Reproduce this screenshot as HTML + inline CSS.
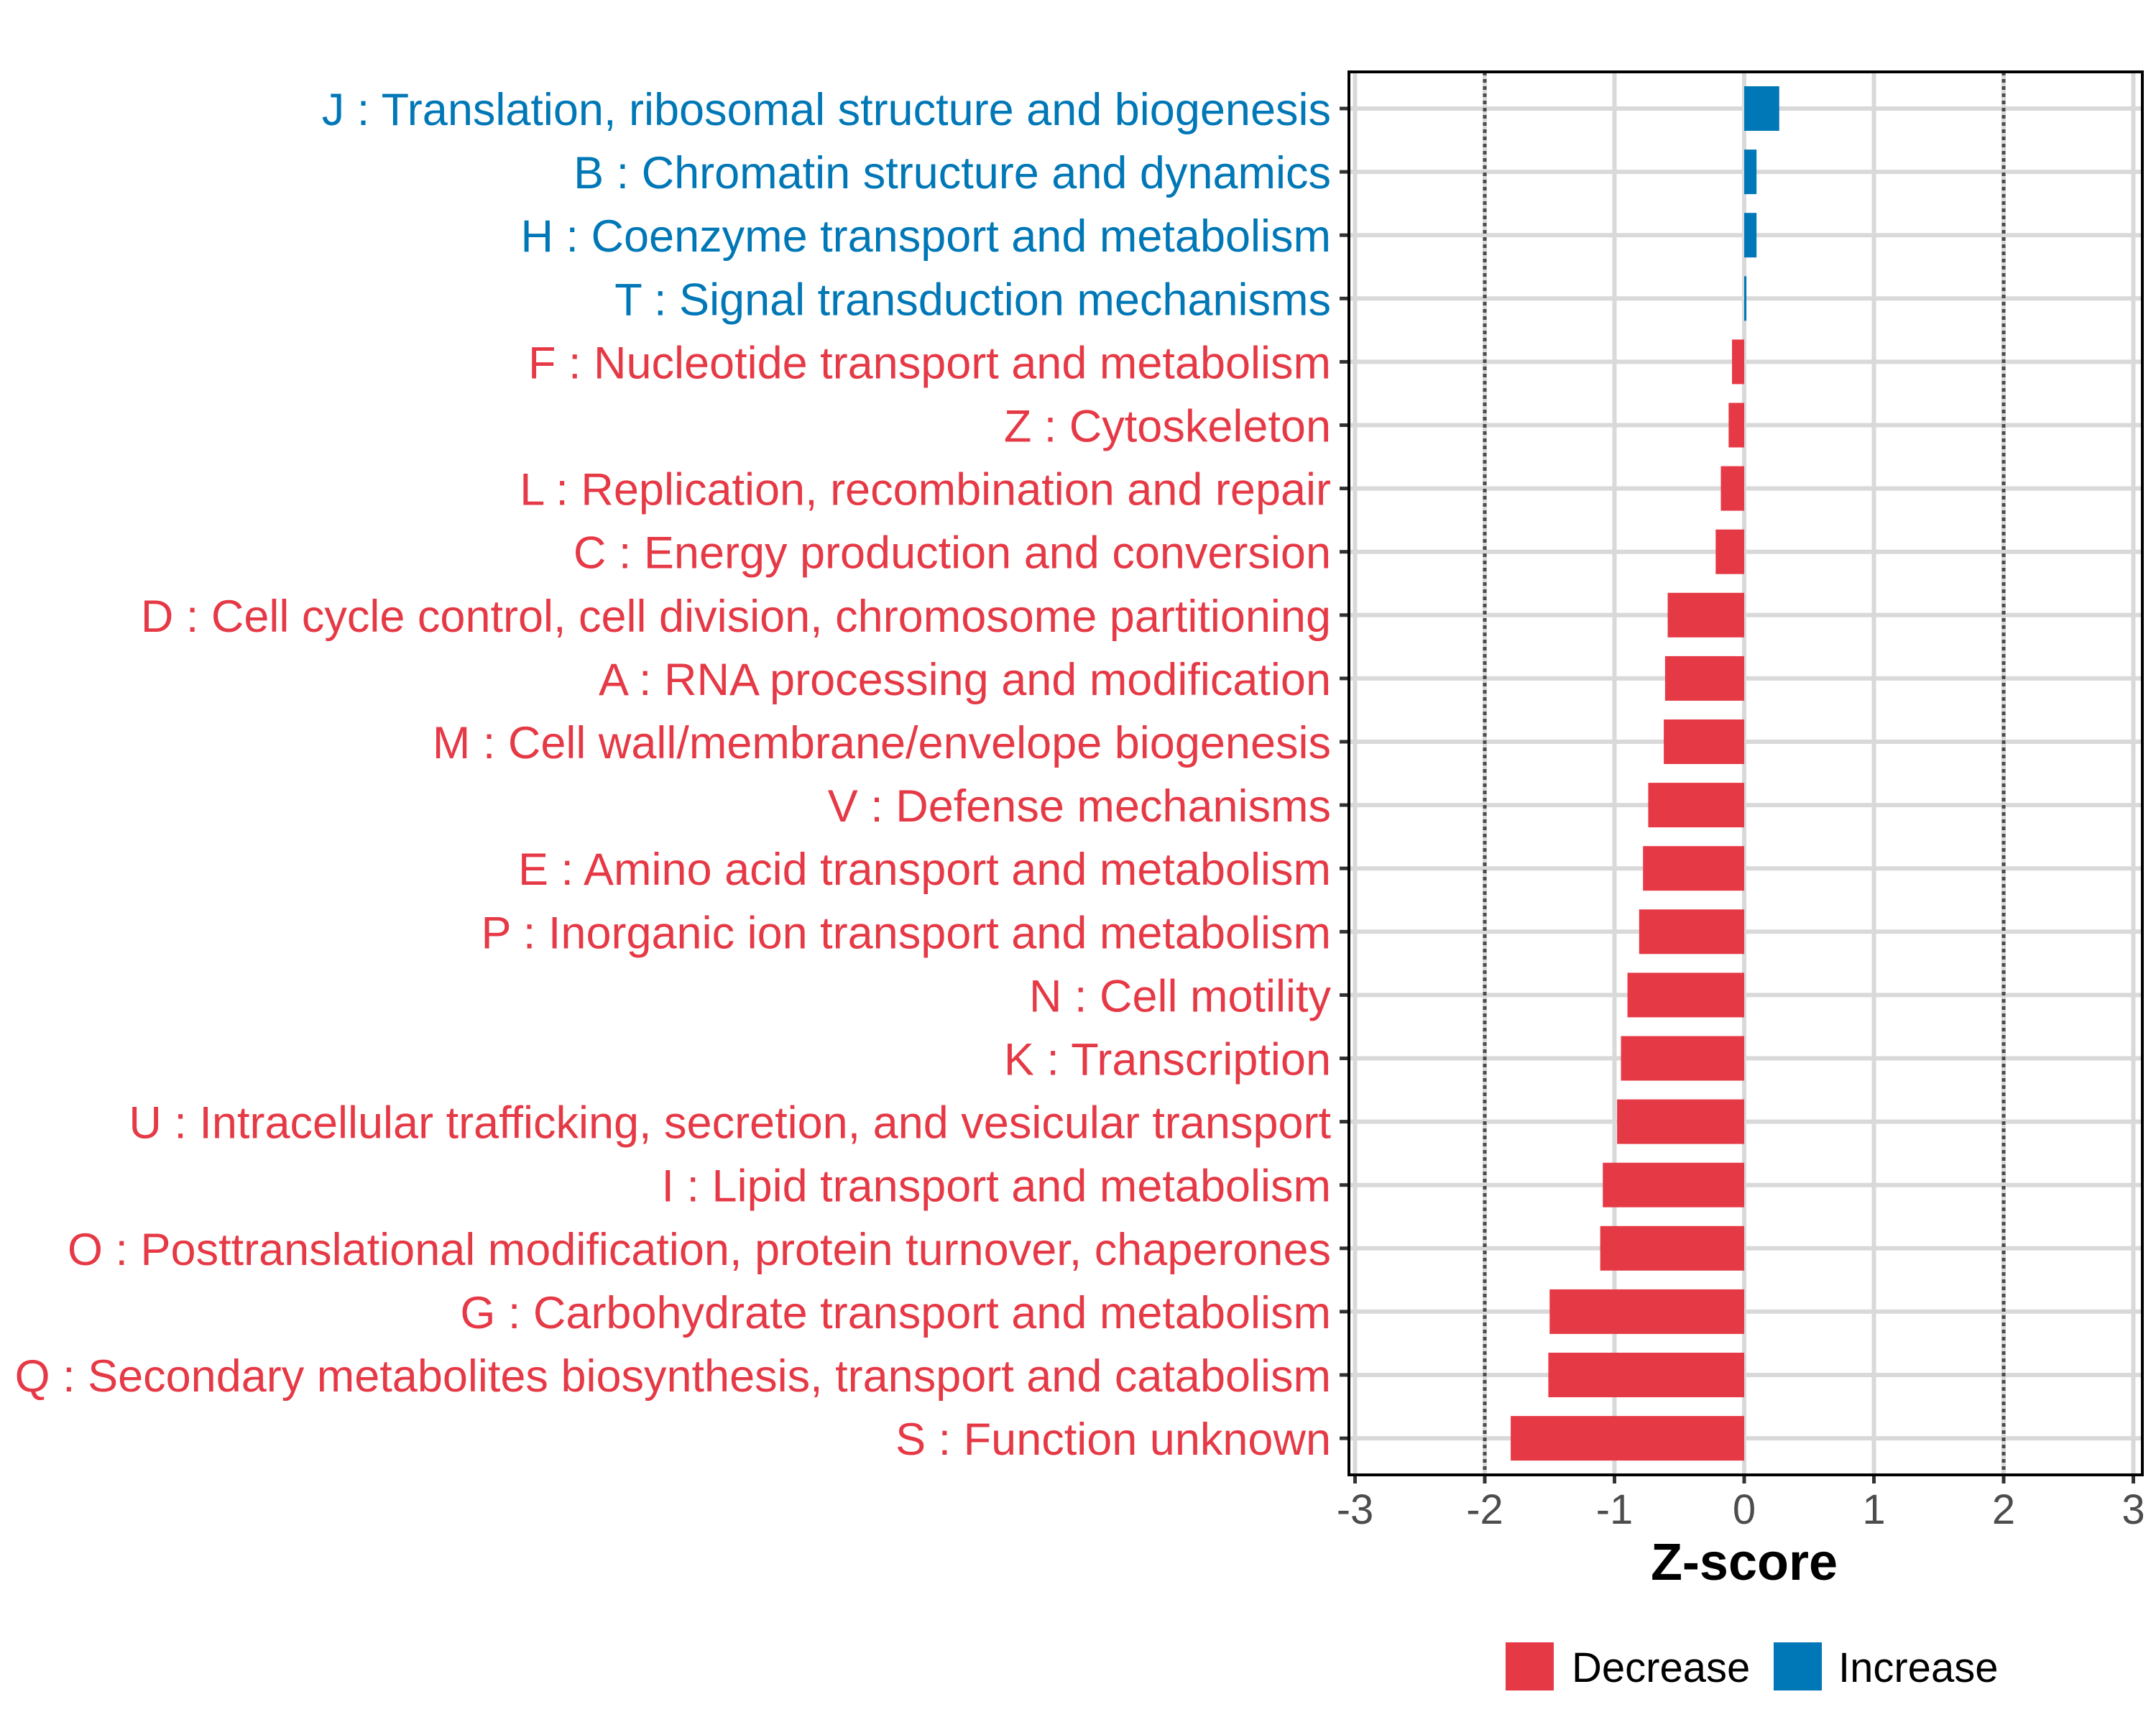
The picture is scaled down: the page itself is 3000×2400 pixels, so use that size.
<!DOCTYPE html>
<html><head><meta charset="utf-8"><style>
html,body{margin:0;padding:0;background:#fff;}
svg{display:block;font-family:"Liberation Sans",Arial,sans-serif;}
</style></head><body>
<svg id="chart" width="3000" height="2400" viewBox="0 0 3000 2400" xmlns="http://www.w3.org/2000/svg">
<rect x="0" y="0" width="3000" height="2400" fill="#fff"/>
<g id="grid"></g>
<g id="bars"></g>
<g id="yaxis"></g>
<g id="xaxis"></g>
<rect x="1877" y="100" width="1104" height="1952" fill="none" stroke="#000" stroke-width="4"/>
<text x="2427" y="2198" font-size="72" font-weight="bold" text-anchor="middle" fill="#000">Z-score</text>
<g>
<rect x="2095" y="2285" width="67" height="67" fill="#E63946"/>
<text x="2187" y="2340" font-size="58" fill="#000">Decrease</text>
<rect x="2468" y="2285" width="67" height="67" fill="#0077B6"/>
<text x="2558" y="2340" font-size="58" fill="#000">Increase</text>
</g>
</svg>
<script>
const categories = [
"J : Translation, ribosomal structure and biogenesis",
"B : Chromatin structure and dynamics",
"H : Coenzyme transport and metabolism",
"T : Signal transduction mechanisms",
"F : Nucleotide transport and metabolism",
"Z : Cytoskeleton",
"L : Replication, recombination and repair",
"C : Energy production and conversion",
"D : Cell cycle control, cell division, chromosome partitioning",
"A : RNA processing and modification",
"M : Cell wall/membrane/envelope biogenesis",
"V : Defense mechanisms",
"E : Amino acid transport and metabolism",
"P : Inorganic ion transport and metabolism",
"N : Cell motility",
"K : Transcription",
"U : Intracellular trafficking, secretion, and vesicular transport",
"I : Lipid transport and metabolism",
"O : Posttranslational modification, protein turnover, chaperones",
"G : Carbohydrate transport and metabolism",
"Q : Secondary metabolites biosynthesis, transport and catabolism",
"S : Function unknown"
];
const zscores = [0.27,0.095,0.095,0.017,-0.094,-0.12,-0.18,-0.22,-0.59,-0.61,-0.62,-0.74,-0.78,-0.81,-0.90,-0.95,-0.98,-1.09,-1.11,-1.50,-1.51,-1.80];
const xTicks = [-3,-2,-1,0,1,2,3];
const xTickLabels = ["-3","-2","-1","0","1","2","3"];
const thresholds = [-2,2];

const NS="http://www.w3.org/2000/svg";
const X0=2427, UNIT=180.5, ROW0=151, STEP=88.1, BARH=62;
const PT=100, PB=2052, PL=1877, PR=2981;
function xScale(v){return X0+v*UNIT;}
function yScale(i){return ROW0+i*STEP;}
function mk(tag,attrs,parent){const e=document.createElementNS(NS,tag);for(const k in attrs)e.setAttribute(k,attrs[k]);parent.appendChild(e);return e;}
const grid=document.getElementById('grid'),bars=document.getElementById('bars'),yax=document.getElementById('yaxis'),xax=document.getElementById('xaxis');

xTicks.forEach((t,i)=>{
  const l=mk('line',{x1:xScale(t),x2:xScale(t),y1:PT,y2:PB,stroke:'#d9d9d9','stroke-width':6},grid);
  
  
  const tk=mk('line',{x1:xScale(t),x2:xScale(t),y1:PB,y2:PB+12,stroke:'#333','stroke-width':5},xax);
  
  
  const tx=mk('text',{x:xScale(t),y:2120,'font-size':58,'text-anchor':'middle',fill:'#4d4d4d'},xax);
  tx.textContent=xTickLabels[i];
  
  
});
categories.forEach((c,i)=>{
  const y=yScale(i);
  const l=mk('line',{x1:PL,x2:PR,y1:y,y2:y,stroke:'#d9d9d9','stroke-width':6},grid);
  
  
});
thresholds.forEach(t=>{
  const l=mk('line',{x1:xScale(t),x2:xScale(t),y1:PT,y2:PB,stroke:'#4d4d4d','stroke-width':5,'stroke-dasharray':'5,5'},grid);
  
  
});
categories.forEach((c,i)=>{
  const v=zscores[i], y=yScale(i);
  const col=v>=0?'#0077B6':'#E63946';
  const x1=xScale(Math.min(0,v)), x2=xScale(Math.max(0,v));
  const r=mk('rect',{x:x1,y:y-BARH/2,width:Math.max(x2-x1,3),height:BARH,fill:col},bars);
  
  
  const tk=mk('line',{x1:PL-13,x2:PL,y1:y,y2:y,stroke:'#333','stroke-width':5},yax);
  
  
  const tx=mk('text',{x:1852,y:y+23,'font-size':63,'text-anchor':'end',fill:col},yax);
  tx.textContent=c;
  
  
});
</script>
</body></html>
